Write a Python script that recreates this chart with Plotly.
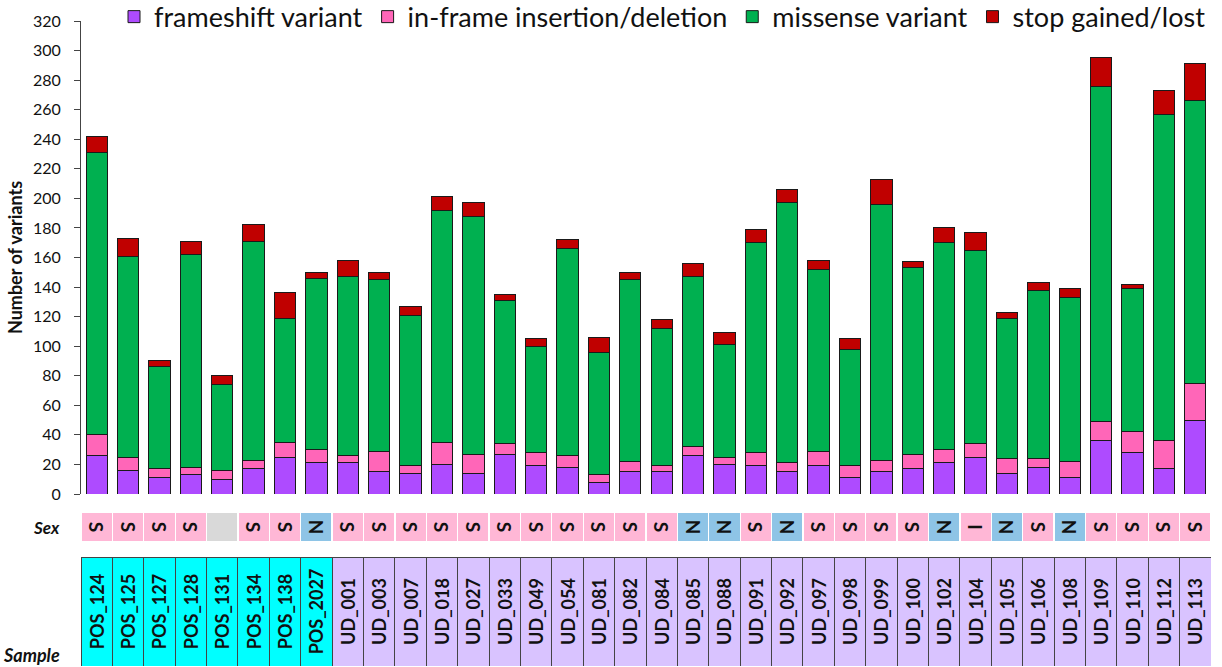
import plotly.graph_objects as go

samples = ["POS_124", "POS_125", "POS_127", "POS_128", "POS_131", "POS_134", "POS_138", "POS_2027",
           "UD_001", "UD_003", "UD_007", "UD_018", "UD_027", "UD_033", "UD_049", "UD_054", "UD_081",
           "UD_082", "UD_084", "UD_085", "UD_088", "UD_091", "UD_092", "UD_097", "UD_098", "UD_099",
           "UD_100", "UD_102", "UD_104", "UD_105", "UD_106", "UD_108", "UD_109", "UD_110", "UD_112", "UD_113"]

frameshift = [26, 16, 11, 13, 10, 17, 25, 21, 21, 15, 14, 20, 14, 27, 19, 18, 8, 15, 15, 26, 20, 19, 15, 19,
              11, 15, 17, 21, 25, 14, 18, 11, 36, 28, 17, 50]
inframe = [14, 9, 6, 5, 6, 6, 10, 9, 5, 14, 5, 15, 13, 7, 9, 8, 5, 7, 4, 6, 5, 9, 6, 10,
           8, 8, 10, 9, 9, 10, 6, 11, 13, 14, 19, 25]
missense = [191, 136, 69, 144, 58, 148, 84, 116, 121, 116, 102, 157, 161, 97, 72, 140, 83, 123, 93, 115, 76, 142, 176, 123,
            79, 173, 126, 140, 131, 95, 114, 111, 227, 97, 221, 191]
stop = [11, 12, 4, 9, 6, 11, 17, 4, 11, 5, 6, 9, 9, 4, 5, 6, 10, 5, 6, 9, 8, 9, 9, 6,
        7, 17, 4, 10, 12, 4, 5, 6, 19, 3, 16, 25]

sex = ["S", "S", "S", "S", "", "S", "S", "N", "S", "S", "S", "S", "S", "S", "S", "S", "S",
       "S", "S", "N", "N", "S", "N", "S", "S", "S", "S", "N", "I", "N", "S", "N", "S", "S", "S", "S"]
group = ["POS"] * 8 + ["UD"] * 28

series = [
    ("frameshift variant", frameshift, "#AE4BFF"),
    ("in-frame insertion/deletion", inframe, "#FF66B8"),
    ("missense variant", missense, "#00B050"),
    ("stop gained/lost", stop, "#C00000"),
]
sex_colors = {"S": "#FFB7D6", "N": "#8EC4E6", "I": "#FFB7D6", "": "#D9D9D9"}
group_colors = {"POS": "#00FFFF", "UD": "#D9C3FF"}

FONT = "Lato, 'Open Sans', sans-serif"

fig = go.Figure()
for name, vals, col in series:
    fig.add_trace(go.Bar(
        x=samples, y=vals, name=name,
        marker=dict(color=col, line=dict(color="#1a1a1a", width=1)),
        hoverinfo="x+y+name",
    ))

# Sex row
fig.add_trace(go.Bar(
    x=samples, y=[1] * len(samples), yaxis="y2", width=0.96,
    marker=dict(color=[sex_colors[s] for s in sex], line=dict(width=0)),
    text=[f"<b>{s}</b>" if s else "" for s in sex], textposition="inside", insidetextanchor="middle",
    textfont=dict(family=FONT, size=19, color="#111111"),
    showlegend=False, hoverinfo="skip", constraintext="none",
))

# Sample row
fig.add_trace(go.Bar(
    x=samples, y=[1] * len(samples), yaxis="y3", width=1.0,
    marker=dict(color=[group_colors[g] for g in group], line=dict(color="#444444", width=1)),
    text=[f"<b>{s}</b>" for s in samples], textposition="inside", insidetextanchor="middle",
    textangle=-90, textfont=dict(family=FONT, size=18, color="#111111"),
    showlegend=False, hoverinfo="skip", constraintext="none",
))

H = 667
T, B = 21, 0
PH = H - T - B


def frac(px):
    return (H - B - px) / PH


fig.update_layout(
    width=1222, height=H,
    margin=dict(l=81, r=11, t=T, b=B, autoexpand=False),
    barmode="stack", bargap=0.32,
    plot_bgcolor="white", paper_bgcolor="white",
    font=dict(family=FONT, color="#111111"),
    xaxis=dict(type="category", range=[-0.5, 35.5], showticklabels=False, showline=False,
               showgrid=False, zeroline=False, ticks="", automargin=False),
    yaxis=dict(domain=[frac(494), 1.0], range=[0, 320], dtick=20, showgrid=False, zeroline=False,
               showline=True, linecolor="#444444", linewidth=1, ticks="outside", ticklen=6,
               tickcolor="#444444", ticklabelstandoff=10, automargin=False,
               tickfont=dict(size=16, family=FONT, color="#111111"),
               title=dict(text="<b>Number of variants</b>", font=dict(size=18, family=FONT), standoff=5)),
    yaxis2=dict(domain=[frac(541), frac(513)], range=[0, 1], visible=False, anchor="x"),
    yaxis3=dict(domain=[frac(666), frac(557)], range=[0, 1], visible=False, anchor="x"),
    legend=dict(orientation="h", x=1.0, xanchor="right", y=1.044, yanchor="top",
                font=dict(size=27, family=FONT, color="#111111"), itemwidth=30,
                bgcolor="rgba(0,0,0,0)", traceorder="normal"),
    showlegend=True,
    annotations=[
        dict(text="<b><i>Sex</i></b>", xref="paper", yref="paper", x=-0.017, xanchor="right",
             y=frac(527), yanchor="middle", showarrow=False, font=dict(size=17, family=FONT)),
        dict(text="<b><i>Sample</i></b>", xref="paper", yref="paper", x=-0.017, xanchor="right",
             y=frac(655), yanchor="middle", showarrow=False, font=dict(size=18, family=FONT)),
    ],
)

fig.write_html("out.html", config={"displayModeBar": False},
               post_script="document.body.style.margin='0';document.body.style.overflow='hidden';")
